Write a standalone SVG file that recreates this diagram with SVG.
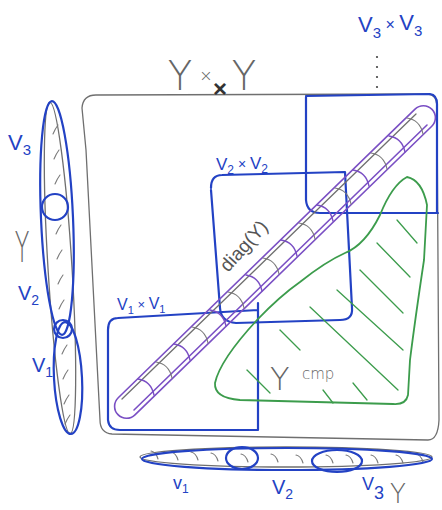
<svg xmlns="http://www.w3.org/2000/svg" xmlns:xlink="http://www.w3.org/1999/xlink" width="442" height="510" viewBox="0 0 442 510">
<style>
.gray{fill:none;stroke:#6f6f6f;stroke-width:1.3;stroke-linecap:round}
.blue{fill:none;stroke:#2342c4;stroke-width:2.2;stroke-linecap:round;stroke-linejoin:round}
.purple{fill:none;stroke:#7a4fc4;stroke-width:1.6;stroke-linecap:round}
.green{fill:none;stroke:#3c9c4c;stroke-width:1.8;stroke-linecap:round;stroke-linejoin:round}
.hg{fill:none;stroke:#7a7a7a;stroke-width:1.1;stroke-linecap:round}
.hp{fill:none;stroke:#7a4fc4;stroke-width:1.4;stroke-linecap:round}
.hgr{fill:none;stroke:#3c9c4c;stroke-width:1.3;stroke-linecap:round}
.tb{font-family:"Liberation Sans",Arial,sans-serif;fill:#2342c4}
.tg{font-family:"DejaVu Sans",sans-serif;font-weight:200;fill:#666}
.td{font-family:"Liberation Sans",Arial,sans-serif;fill:#555}
</style>
<defs>
<path id="dh" d="M-8,-8 Q5,-6 8,8"/>
<path id="vh" d="M-2,4 Q0,-1 3,-5"/>
<path id="bh" d="M-4,-4 Q1,-3 3,4"/>
</defs>

<!-- Y x Y big box -->
<g id="YxY">
<path class="gray" d="M82,108 Q83,95 96,95 L428,94 Q437,95 437,106 L439,420 Q438,440 428,440 L112,434 Q100,433 100,420 L86,150 Z"/>
<text class="tg" x="180" y="90" font-size="40" text-anchor="middle">Y</text>
<text class="tg" x="206" y="81" font-size="16" text-anchor="middle">×</text>
<text class="tg" x="244" y="90" font-size="40" text-anchor="middle">Y</text>
<text x="220" y="97" font-size="24" font-weight="bold" text-anchor="middle" font-family="Liberation Sans,Arial,sans-serif" fill="#333">×</text>
</g>

<!-- V3 x V3 -->
<g id="V3xV3">
<path class="blue" d="M306,97 L306,200 Q307,213 320,213 L438,213 M306,96 L430,94 Q437,95 437,104 L437,213"/>
<text class="tb" x="358" y="32" font-size="22">V<tspan font-size="15" dy="6">3</tspan><tspan font-size="16" dy="-8"> × </tspan>V<tspan font-size="15" dy="6">3</tspan></text>
<g fill="#444"><circle cx="377" cy="57" r="1.1"/><circle cx="377" cy="67" r="1.1"/><circle cx="377" cy="77" r="1.1"/><circle cx="377" cy="87" r="1.1"/></g>
</g>

<!-- V2 x V2 -->
<g id="V2xV2">
<path class="blue" d="M211,188 Q211,175 222,175 L345,172 L352,308 Q353,320 340,320 L236,323 Q221,322 220,308 L211,190"/>
<text class="tb" x="216" y="170" font-size="17">V<tspan font-size="12" dy="4">2</tspan><tspan font-size="14" dy="-5"> × </tspan>V<tspan font-size="12" dy="4">2</tspan></text>
</g>

<!-- V1 x V1 -->
<g id="V1xV1">
<path class="blue" d="M118,318 Q108,318 108,330 L108,420 Q109,430 120,430 L258,430 L258,303 M258,310 L118,318"/>
<text class="tb" x="117" y="310" font-size="16">V<tspan font-size="11" dy="4">1</tspan><tspan font-size="13" dy="-5"> × </tspan>V<tspan font-size="11" dy="4">1</tspan></text>
</g>

<!-- Y cmp -->
<g id="Ycmp">
<path class="green" d="M407,177 Q422,180 427,205 L424,260 Q415,320 410,360 L408,395 Q406,405 393,404 L240,400 Q214,398 215,383 Q220,360 257,320 Q280,296 300,282 Q325,262 345,253 Q365,245 380,215 Q392,185 407,177 Z"/>
<g class="hgr">
<path d="M397,220 L417,243"/><path d="M377,243 L410,277"/><path d="M360,270 L403,313"/><path d="M337,290 L403,350"/>
<path d="M310,307 L398,390"/><path d="M280,330 L300,350"/><path d="M247,370 L270,393"/><path d="M323,390 L333,403"/><path d="M353,383 L367,400"/>
</g>
<text class="tg" x="270" y="390" font-size="32">Y</text>
<text class="tg" x="302" y="379" font-size="15">cmp</text>
</g>

<!-- diag(Y) band -->
<g id="diag">
<rect class="purple" x="56" y="250" width="438" height="24" rx="12" transform="rotate(-44.2 275 262)"/>
<line class="purple" x1="134" y1="410" x2="427" y2="125"/>
<line class="gray" x1="122" y1="399" x2="416" y2="114"/>
<g class="hp">
<use xlink:href="#dh" x="146" y="387"/><use xlink:href="#dh" x="182" y="352"/><use xlink:href="#dh" x="218" y="318"/><use xlink:href="#dh" x="254" y="283"/><use xlink:href="#dh" x="289" y="248"/><use xlink:href="#dh" x="325" y="213"/><use xlink:href="#dh" x="361" y="178"/><use xlink:href="#dh" x="397" y="144"/>
</g>
<g class="hg">
<use xlink:href="#dh" x="164" y="370"/><use xlink:href="#dh" x="200" y="335"/><use xlink:href="#dh" x="236" y="300"/><use xlink:href="#dh" x="271" y="266"/><use xlink:href="#dh" x="307" y="231"/><use xlink:href="#dh" x="343" y="196"/><use xlink:href="#dh" x="379" y="161"/><use xlink:href="#dh" x="415" y="126"/>
</g>
<text class="td" x="0" y="0" font-size="19" transform="translate(228,273) rotate(-48)">diag(Y)</text>
</g>

<!-- left column Y -->
<g id="Yleft">
<ellipse class="gray" cx="60" cy="268" rx="12" ry="166" transform="rotate(-3.5 60 268)"/>
<g class="hg">
<use xlink:href="#vh" x="55" y="130"/><use xlink:href="#vh" x="56" y="155"/><use xlink:href="#vh" x="57" y="180"/><use xlink:href="#vh" x="58" y="230"/><use xlink:href="#vh" x="59" y="255"/><use xlink:href="#vh" x="60" y="280"/><use xlink:href="#vh" x="61" y="305"/><use xlink:href="#vh" x="64" y="350"/><use xlink:href="#vh" x="65" y="375"/><use xlink:href="#vh" x="66" y="400"/><use xlink:href="#vh" x="67" y="420"/>
</g>
<ellipse class="blue" cx="57" cy="218" rx="16" ry="117" transform="rotate(-2.5 57 218)"/>
<circle class="blue" cx="55" cy="207" r="13"/>
<circle class="blue" cx="63" cy="329" r="9"/>
<ellipse class="blue" cx="68" cy="378" rx="14" ry="56" transform="rotate(-3 68 378)"/>
<text class="tb" x="8" y="150" font-size="22">V<tspan font-size="15" dy="5">3</tspan></text>
<text class="tg" x="0" y="0" font-size="30" text-anchor="middle" transform="translate(22,262) scale(0.8,1.4)">Y</text>
<text class="tb" x="18" y="300" font-size="20">V<tspan font-size="14" dy="5">2</tspan></text>
<text class="tb" x="32" y="372" font-size="20">V<tspan font-size="14" dy="5">1</tspan></text>
</g>

<!-- bottom row Y -->
<g id="Ybottom">
<ellipse class="gray" cx="286" cy="457" rx="146" ry="10"/>
<g class="hg">
<use xlink:href="#bh" x="155" y="455"/><use xlink:href="#bh" x="175" y="456"/><use xlink:href="#bh" x="195" y="456"/><use xlink:href="#bh" x="215" y="457"/><use xlink:href="#bh" x="245" y="458"/><use xlink:href="#bh" x="275" y="458"/><use xlink:href="#bh" x="300" y="459"/><use xlink:href="#bh" x="330" y="459"/><use xlink:href="#bh" x="350" y="459"/><use xlink:href="#bh" x="375" y="459"/><use xlink:href="#bh" x="400" y="459"/><use xlink:href="#bh" x="420" y="458"/>
</g>
<ellipse class="blue" cx="287" cy="459" rx="145" ry="11"/>
<ellipse class="blue" cx="242" cy="458" rx="16" ry="11"/>
<ellipse class="blue" cx="337" cy="461" rx="25" ry="11"/>
<text class="tb" x="173" y="489" font-size="18">v<tspan font-size="12" dy="4">1</tspan></text>
<text class="tb" x="272" y="494" font-size="20">V<tspan font-size="14" dy="5">2</tspan></text>
<text class="tb" x="362" y="490" font-size="18">V<tspan font-size="18" dy="9">3</tspan></text>
<text class="tg" x="398" y="503" font-size="26" text-anchor="middle">Y</text>
</g>
</svg>
